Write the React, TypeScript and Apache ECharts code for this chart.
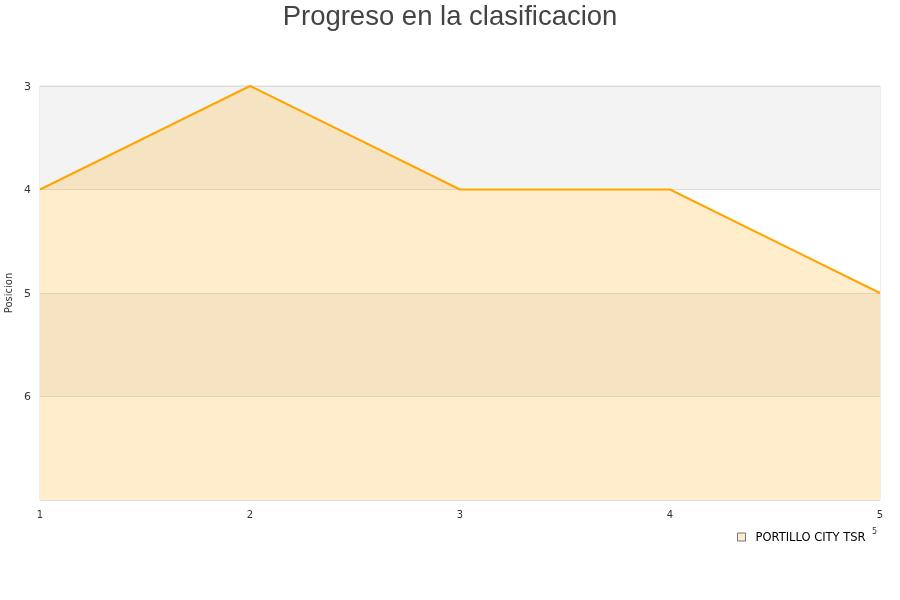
import React, { useEffect, useRef } from "react";
import * as echarts from "echarts";

const categories = ["1", "2", "3", "4", "5"];
const seriesName = "PORTILLO CITY TSR";
const positions = [4, 3, 4, 4, 5];
const yTickLabels = ["3", "4", "5", "6"];

export default function App() {
  const ref = useRef<HTMLDivElement>(null);
  useEffect(() => {
    if (!ref.current) return;
    const chart = echarts.init(ref.current, null, { renderer: "svg" });
    chart.setOption({
      animation: false,
      title: {
        text: "Progreso en la clasificacion",
        left: "center",
        top: -4,
        textStyle: { fontFamily: "Liberation Sans", fontSize: 27.5, fontWeight: "normal", color: "#444" },
      },
      grid: {
        left: 40,
        right: 20,
        top: 86,
        bottom: 100,
        outerBoundsMode: "none",
        containLabel: false,
        show: true,
        borderColor: "#ddd",
        borderWidth: 1,
        backgroundColor: "transparent",
      },
      legend: {
        left: 732,
        top: 526,
        icon: "rect",
        itemWidth: 8,
        itemHeight: 8,
        textStyle: { fontFamily: "DejaVu Sans", fontSize: 11.5, color: "#000", padding: [0, 0, 0, 5] },
        data: [{ name: seriesName, itemStyle: { color: "#ffeccc", borderColor: "#777", borderWidth: 1 } }],
      },
      xAxis: {
        type: "category",
        data: categories,
        boundaryGap: false,
        axisLine: { show: false },
        axisTick: { show: false },
        axisLabel: { fontFamily: "DejaVu Sans", fontSize: 10, color: "#333", margin: 9 },
        splitLine: { show: false },
      },
      yAxis: {
        type: "value",
        inverse: true,
        min: 3,
        max: 7,
        interval: 1,
        name: "Posicion",
        nameLocation: "middle",
        nameGap: 25,
        nameTextStyle: { fontFamily: "DejaVu Sans", fontSize: 10, color: "#333" },
        axisLine: { show: false },
        axisTick: { show: false },
        axisLabel: {
          fontFamily: "DejaVu Sans",
          fontSize: 11,
          color: "#333",
          margin: 9,
          formatter: (v: number) => (yTickLabels.includes(String(v)) ? String(v) : ""),
        },
        splitLine: { show: true, lineStyle: { color: "#ddd", width: 1 } },
        splitArea: { show: true, areaStyle: { color: ["#f3f3f3", "#ffffff"] } },
      },
      series: [
        {
          name: seriesName,
          type: "line",
          data: positions,
          showSymbol: false,
          symbol: "none",
          lineStyle: { color: "#ffa500", width: 2 },
          itemStyle: { color: "#ffa500" },
          areaStyle: { color: "rgba(255,165,0,0.2)", opacity: 1, origin: "end" },
        },
      ],
      graphic: [
        { type: "text", left: 872, top: 527, style: { text: "5", fontSize: 8, fill: "#333", fontFamily: "DejaVu Sans" } },
      ],
    });
    return () => chart.dispose();
  }, []);
  return <div ref={ref} style={{ position: "fixed", left: 0, top: 0, width: 900, height: 600 }} />;
}
